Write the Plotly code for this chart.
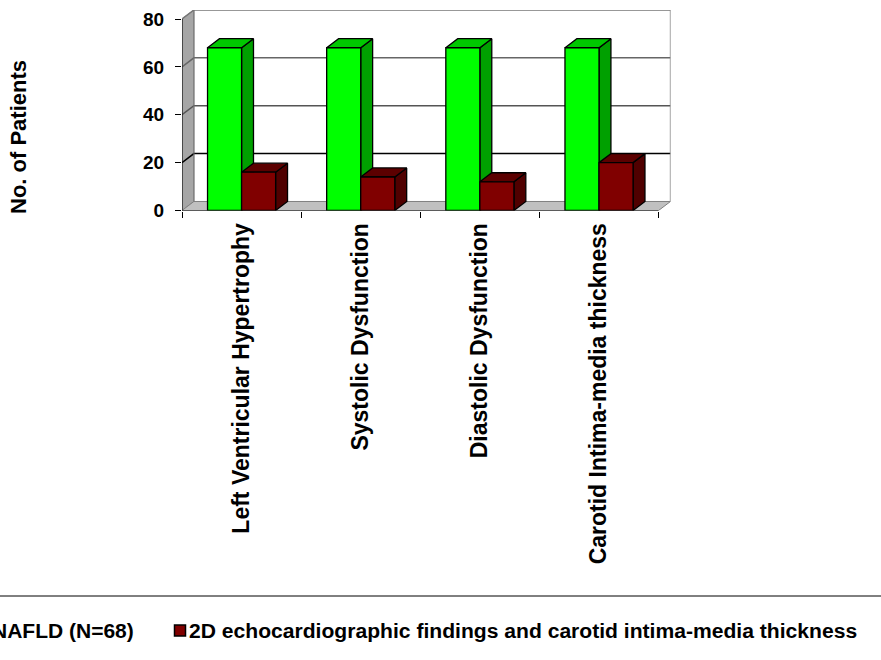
import plotly.graph_objects as go

categories = ["Left Ventricular Hypertrophy", "Systolic Dysfunction",
              "Diastolic Dysfunction", "Carotid Intima-media thickness"]
nafld_name = "NAFLD (N=68)"
echo_name = "2D echocardiographic findings and carotid intima-media thickness"
nafld_values = [68, 68, 68, 68]
echo_values = [16, 14, 12, 20]
y_ticks = [0, 20, 40, 60, 80]
y_title = "No. of Patients"

W, H = 881, 660
FONT = "Liberation Sans, Arial, sans-serif"
DX, DY = 0.1, 3.77        # oblique depth of the pseudo-3D box, in data units
BAR_W = 2 / 7             # single bar width in category units
GROUP_W = 2 * BAR_W
Xmax, Ymax = len(categories), y_ticks[-1]
centers = [i + 0.5 for i in range(len(categories))]

GREEN, GREEN_SIDE, GREEN_TOP = "#00ff00", "#00a000", "#00c800"
RED, RED_SIDE, RED_TOP = "#800000", "#500000", "#5c0000"
EDGE = "#000000"


def poly(xs, ys, fill, line=EDGE, width=1.3):
    return go.Scatter(x=xs + xs[:1], y=ys + ys[:1], mode="lines", fill="toself",
                      fillcolor=fill, line=dict(color=line, width=width),
                      hoverinfo="skip", showlegend=False, xaxis="x", yaxis="y")


def line(xs, ys, color, width=1.3):
    return go.Scatter(x=xs, y=ys, mode="lines", line=dict(color=color, width=width),
                      hoverinfo="skip", showlegend=False, xaxis="x", yaxis="y")


def box_faces(x0, value, side, top):
    x1 = x0 + BAR_W
    return [
        poly([x1, x1 + DX, x1 + DX, x1], [0, DY, value + DY, value], side),
        poly([x0, x1, x1 + DX, x0 + DX], [value, value, value + DY, value + DY], top),
    ]


traces = [
    poly([0, DX, DX, 0], [0, DY, Ymax + DY, Ymax], "#a6a6a6", "#808080", 1),
    poly([0, Xmax, Xmax + DX, DX], [0, 0, DY, DY], "#c0c0c0", "#808080", 1),
]
grid_colors = {20: "#000000", 40: "#555555", 60: "#666666", 80: "#777777"}
for t in y_ticks[1:]:
    traces.append(line([0, DX, Xmax + DX], [t, t + DY, t + DY], grid_colors[t], 1.5))
traces.append(line([DX, DX], [DY, Ymax + DY], "#777777", 1))
traces.append(line([Xmax + DX, Xmax + DX], [DY, Ymax + DY], "#777777", 1.3))
traces.append(line([0, 0], [0, Ymax], "#000000", 1))
traces.append(line([0, Xmax], [0, 0], "#000000", 1))

for c, g, r in zip(centers, nafld_values, echo_values):
    traces += box_faces(c - BAR_W, g, GREEN_SIDE, GREEN_TOP)
    traces += box_faces(c, r, RED_SIDE, RED_TOP)

fig = go.Figure(traces)
fig.add_trace(go.Bar(x=centers, y=nafld_values, name=nafld_name, xaxis="x2", yaxis="y2",
                     marker=dict(color=GREEN, line=dict(color=EDGE, width=1.3))))
fig.add_trace(go.Bar(x=centers, y=echo_values, name=echo_name, xaxis="x2", yaxis="y2",
                     marker=dict(color=RED, line=dict(color=EDGE, width=1.3))))

x_dom = [182 / W, 670.5 / W]
y_dom = [1 - 210.5 / H, 1 - 10 / H]
xr, yr = [0, Xmax + DX], [0, Ymax + DY]
tick_font = dict(family=FONT, size=19, color="#000000")
cat_font = dict(family=FONT, size=23, color="#000000")

fig.update_layout(
    width=W, height=H, autosize=False,
    margin=dict(l=0, r=0, t=0, b=0, pad=0, autoexpand=False),
    paper_bgcolor="#ffffff", plot_bgcolor="#ffffff",
    showlegend=False, barmode="group", bargap=1 - GROUP_W, bargroupgap=0,
    font=dict(family=FONT, color="#000000"),
    xaxis=dict(domain=x_dom, range=xr, showgrid=False, zeroline=False, showline=False,
               automargin=False,
               tickmode="array", tickvals=centers, ticktext=[f"<b>{c}</b>" for c in categories],
               tickangle=-90, ticks="", tickfont=cat_font, ticklabelstandoff=7,
               minor=dict(tickmode="array", tickvals=list(range(Xmax + 1)), ticks="outside",
                          ticklen=6, tickcolor="#000000", tickwidth=1, showgrid=False)),
    yaxis=dict(domain=y_dom, range=yr, showgrid=False, zeroline=False, showline=False,
               automargin=False,
               tickmode="array", tickvals=y_ticks, ticktext=[f"<b>{t}</b>" for t in y_ticks],
               ticks="outside", ticklen=6, tickcolor="#000000", tickwidth=1,
               tickfont=tick_font, ticklabelstandoff=7),
    xaxis2=dict(domain=x_dom, range=xr, overlaying="x", visible=False),
    yaxis2=dict(domain=y_dom, range=yr, overlaying="y", visible=False),
    shapes=[
        dict(type="line", xref="paper", yref="paper", x0=0, x1=1,
             y0=1 - 596 / H, y1=1 - 596 / H, line=dict(color="#000000", width=1)),
        dict(type="rect", xref="paper", yref="paper", x0=174.5 / W, x1=185.5 / W,
             y0=1 - 636 / H, y1=1 - 625 / H, fillcolor=RED,
             line=dict(color="#000000", width=1.5)),
    ],
    annotations=[
        dict(text=f"<b>{y_title}</b>", xref="paper", yref="paper", x=19 / W, y=1 - 137 / H,
             textangle=-90, showarrow=False, xanchor="center", yanchor="middle",
             font=dict(family=FONT, size=22, color="#000000")),
        dict(text=f"<b>{nafld_name}</b>", xref="paper", yref="paper", x=136 / W, y=1 - 630 / H,
             showarrow=False, xanchor="right", yanchor="middle",
             font=dict(family=FONT, size=21, color="#000000")),
        dict(text=f"<b>{echo_name}</b>", xref="paper", yref="paper", x=187 / W, y=1 - 630 / H,
             showarrow=False, xanchor="left", yanchor="middle",
             font=dict(family=FONT, size=21.1, color="#000000")),
    ],
)

fig.write_html("out.html", default_width=f"{W}px", default_height=f"{H}px",
               config=dict(displayModeBar=False, responsive=False),
               post_script="document.body.style.margin='0';document.documentElement.style.overflow='hidden';")
